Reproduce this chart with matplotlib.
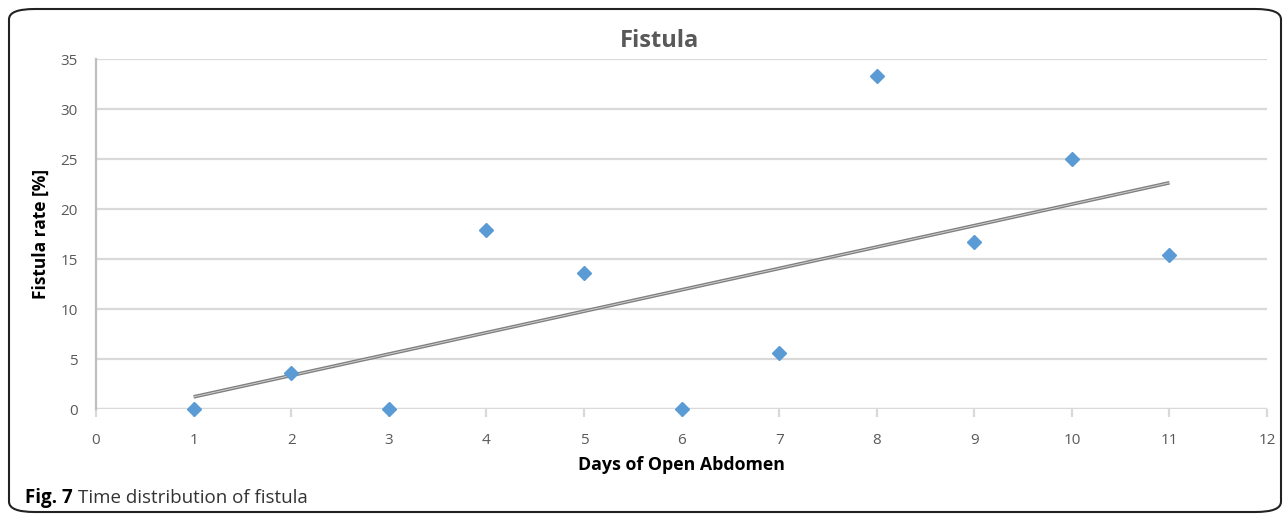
import numpy as np
import matplotlib
matplotlib.use("Agg")
import matplotlib.pyplot as plt
from matplotlib.patches import FancyBboxPatch

plt.rcParams['font.family'] = ['Open Sans', 'DejaVu Sans']

# data
days = [1, 2, 3, 4, 5, 6, 7, 8, 9, 10, 11]
fistula_rate = [0, 3.6, 0, 17.9, 13.6, 0, 5.6, 33.3, 16.7, 25.0, 15.4]
x_ticks = list(range(0, 13))
y_ticks = list(range(0, 36, 5))

fig = plt.figure(figsize=(12.84, 5.15), dpi=100)
ax = fig.add_axes([0.0748, 0.2058, 0.912, 0.6796])

# grid
for y in y_ticks:
    ax.axhline(y, color='#d9d9d9', lw=1.6, zorder=0)

# linear trendline (double line look)
slope, icpt = np.polyfit(days, fistula_rate, 1)
xt = np.array([days[0], days[-1]])
ax.plot(xt, slope * xt + icpt, color='#7f7f7f', lw=2.6, zorder=2, solid_capstyle='butt')
ax.plot(xt, slope * xt + icpt, color='#d0d0d0', lw=0.7, zorder=3, solid_capstyle='butt')

ax.plot(days, fistula_rate, ls='none', marker='D', ms=7, color='#5b9bd5',
        mec='#5b9bd5', zorder=4, clip_on=False)

ax.set_xlim(0, 12)
ax.set_ylim(0, 35)
ax.set_xticks(x_ticks)
ax.set_yticks(y_ticks)

for s in ['top', 'right', 'bottom']:
    ax.spines[s].set_visible(False)
ax.spines['left'].set_color('#bfbfbf')
ax.spines['left'].set_linewidth(1.6)
ax.axhline(0, color='#d9d9d9', lw=1.6, zorder=1)

ax.tick_params(axis='y', length=0, pad=13, labelsize=11, labelcolor='#595959')
ax.tick_params(axis='x', length=6, width=1.6, color='#d9d9d9', direction='in',
               pad=17, labelsize=11, labelcolor='#595959')
for t in ax.get_xticklines():
    t.set_marker(3)

# chart title is centred on the whole chart area, not the plot area
fig.text(659 / 1284, 1 - 47 / 515, 'Fistula', fontsize=17, fontweight='bold',
         color='#595959', ha='center', va='baseline')
ax.set_xlabel('Days of Open Abdomen', fontsize=12.8, fontweight='bold', labelpad=6)
ax.set_ylabel('Fistula rate [%]', fontsize=12.5, fontweight='bold', labelpad=8)

# caption
fig.text(0.0195, 0.024, 'Fig. 7', fontsize=13.5, fontweight='bold', va='baseline')
fig.text(0.0195 + 0.041, 0.024, 'Time distribution of fistula', fontsize=13.5,
         color='#333333', va='baseline')

# rounded frame
box = FancyBboxPatch((9 / 1284, 3 / 515), 1272 / 1284, 503 / 515,
                     boxstyle='round,pad=0,rounding_size=0.02',
                     transform=fig.transFigure, fill=False, ec='#222222', lw=1.5)
fig.patches.append(box)

fig.savefig('out.png', dpi=100)
